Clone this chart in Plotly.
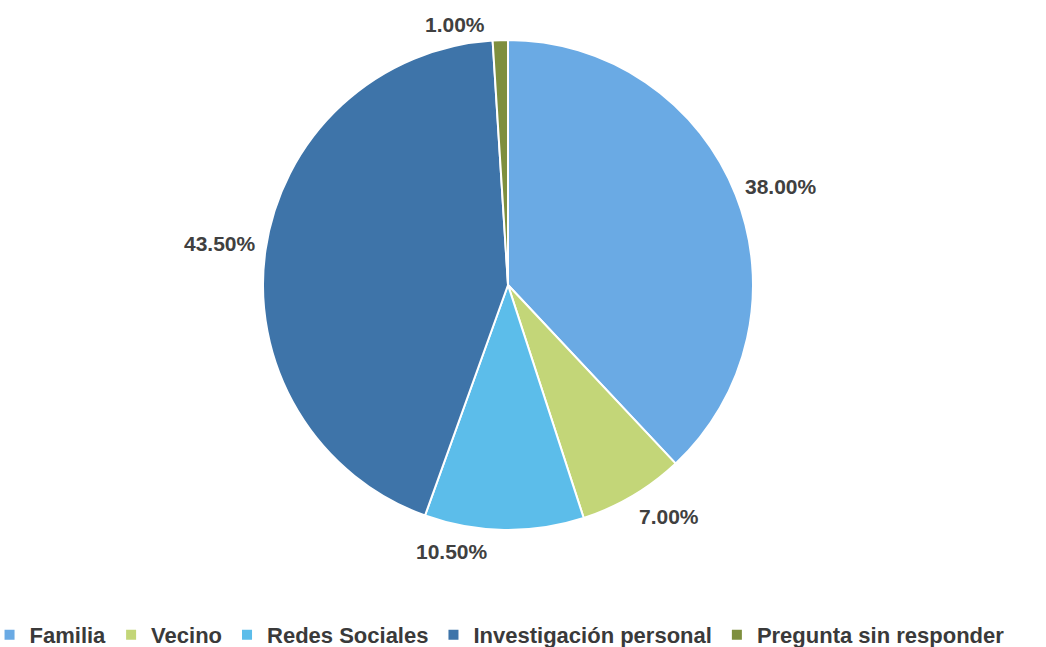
import math
import plotly.graph_objects as go

categories = ["Familia", "Vecino", "Redes Sociales", "Investigación personal", "Pregunta sin responder"]
values = [38.0, 7.0, 10.5, 43.5, 1.0]
colors = ["#6AAAE4", "#C3D678", "#5CBDEA", "#3E74A9", "#7E8F3E"]

W, H = 1046, 647
# pie placement in pixels (center and radius)
CX, CY, R = 508, 285, 245
# nudges for the data labels, in pixels (x right, y up)
label_dx = [0, 0, -52, 0, -45]
label_dy = [5, 0, 0, 6, -6]

dom_x = [(CX - R) / W, (CX + R) / W]
dom_y = [1 - (CY + R) / H, 1 - (CY - R) / H]

fig = go.Figure(
    go.Pie(
        labels=categories,
        values=values,
        sort=False,
        direction="clockwise",
        rotation=0,
        marker=dict(colors=colors, line=dict(color="white", width=2)),
        textinfo="none",
        hoverinfo="label+percent",
        domain=dict(x=dom_x, y=dom_y),
    )
)

# value labels placed just outside each slice, at its middle angle
total = sum(values)
cum = 0.0
annotations = []
for v, dx, dy in zip(values, label_dx, label_dy):
    mid = (cum + v / 2) / total * 2 * math.pi
    cum += v
    ux, uy = math.sin(mid), math.cos(mid)
    r = R + 8
    px = CX + r * ux
    py = CY - r * uy
    xa = "left" if ux > 0.25 else ("right" if ux < -0.25 else "center")
    ya = "bottom" if uy > 0.45 else ("top" if uy < -0.45 else "middle")
    annotations.append(
        dict(
            x=px / W,
            y=1 - py / H,
            xref="paper",
            yref="paper",
            xanchor=xa,
            yanchor=ya,
            xshift=dx,
            yshift=dy,
            showarrow=False,
            text=f"{v:.2f}%",
            font=dict(family="Liberation Sans", size=21, color="#404040", weight="bold"),
        )
    )

fig.update_layout(
    width=W,
    height=H,
    margin=dict(l=0, r=0, t=0, b=0, autoexpand=False),
    paper_bgcolor="white",
    plot_bgcolor="white",
    showlegend=True,
    annotations=annotations,
    legend=dict(
        orientation="h",
        x=-0.01,
        xanchor="left",
        y=-0.014,
        yanchor="bottom",
        font=dict(family="Liberation Sans", size=22, color="#3a3a3a", weight="bold"),
        itemwidth=30,
        traceorder="normal",
    ),
)

fig.write_html("out.html")
